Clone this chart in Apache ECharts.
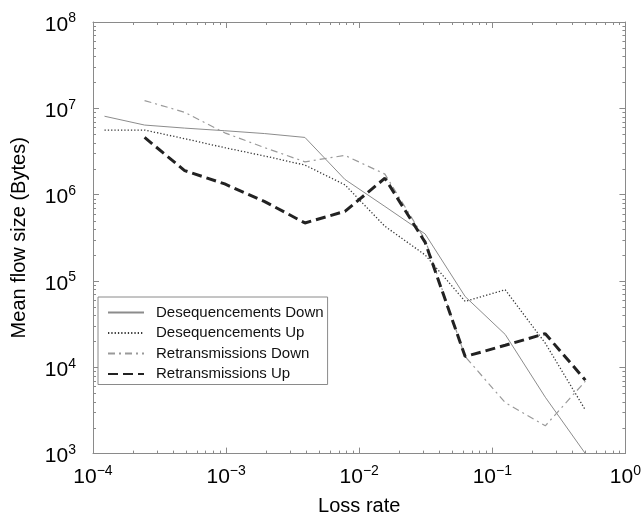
<!DOCTYPE html>
<html>
<head>
<meta charset="utf-8">
<script src="https://cdn.jsdelivr.net/npm/echarts@6/dist/echarts.min.js"></script>
<style>
  html, body { margin: 0; padding: 0; background: #fff; }
  #chart { width: 644px; height: 521px; }
</style>
</head>
<body>
<div id="chart"></div>
<script>
// Loss rates (halving steps) shared by every curve
const lossRates = [1.22e-4, 2.44e-4, 4.88e-4, 9.77e-4, 1.95e-3, 3.91e-3, 7.81e-3,
                   1.56e-2, 3.13e-2, 6.25e-2, 0.125, 0.25, 0.5];

// Mean flow size in bytes, one entry per loss rate (null = no point)
const desequencementsDown = [8.1e6, 6.4e6, 5.9e6, 5.5e6, 5.1e6, 4.6e6, 1.5e6,
                             7.3e5, 3.5e5, 6.6e4, 2.4e4, 4.5e3, 1.0e3];
const desequencementsUp   = [5.6e6, 5.6e6, 4.45e6, 3.5e6, 2.8e6, 2.2e6, 1.3e6,
                             4.3e5, 2.0e5, 5.8e4, 7.9e4, 1.9e4, 3.2e3];
const retransmissionsDown = [null, 1.23e7, 9.0e6, 5.2e6, 3.5e6, 2.4e6, 2.85e6,
                             1.73e6, 3.0e5, 1.33e4, 3.9e3, 2.1e3, 6.9e3];
const retransmissionsUp   = [null, 4.6e6, 1.9e6, 1.33e6, 8.3e5, 4.7e5, 6.4e5,
                             1.55e6, 2.8e5, 1.33e4, 1.8e4, 2.45e4, 7.1e3];

const seriesNames = ['Desequencements Down', 'Desequencements Up',
                     'Retransmissions Down', 'Retransmissions Up'];

// Axis ranges (decades)
const xDecades = [1e-4, 1e-3, 1e-2, 1e-1, 1];
const yDecades = [1e3, 1e4, 1e5, 1e6, 1e7, 1e8];
const minorMantissas = [2, 3, 4, 5, 6, 7, 8, 9];

const FONT = '"Liberation Sans", Arial, Helvetica, sans-serif';
const AXIS_GRAY = '#8a8a8a';

function pairs(values) {
  return lossRates.map((x, i) => [x, values[i]]).filter(p => p[1] != null);
}

function minorValues(decades) {
  const out = [];
  for (let i = 0; i < decades.length - 1; i++) {
    minorMantissas.forEach(m => out.push(decades[i] * m));
  }
  return out;
}

function powerLabel(v) {
  const e = Math.round(Math.log10(v));
  return '{b|10}{s|' + (e < 0 ? '\u2212' + (-e) : String(e)) + '}';
}

// Short inward ticks at the 2..9 sub-decade positions on all four sides
function minorTickSeries(axis) {
  const values = axis === 'x' ? minorValues(xDecades) : minorValues(yDecades);
  const len = 3;
  return {
    type: 'custom',
    silent: true,
    clip: false,
    z: 3,
    data: values.map(v => axis === 'x' ? [v, yDecades[0]] : [xDecades[0], v]),
    renderItem(params, api) {
      const cs = params.coordSys;
      const style = { stroke: AXIS_GRAY, lineWidth: 1 };
      const pt = api.coord([api.value(0), api.value(1)]);
      let segs;
      if (axis === 'x') {
        const px = Math.round(pt[0]) + 0.5;
        segs = [[px, cs.y + cs.height, px, cs.y + cs.height - len],
                [px, cs.y, px, cs.y + len]];
      } else {
        const py = Math.round(pt[1]) + 0.5;
        segs = [[cs.x, py, cs.x + len, py],
                [cs.x + cs.width, py, cs.x + cs.width - len, py]];
      }
      return {
        type: 'group',
        children: segs.map(s => ({
          type: 'line',
          shape: { x1: s[0], y1: s[1], x2: s[2], y2: s[3] },
          style
        }))
      };
    }
  };
}

// "10" with a raised exponent
const tickLabelRich = {
  b: { fontSize: 21, lineHeight: 24, fontFamily: FONT, color: '#000' },
  s: { fontSize: 14, lineHeight: 14, fontFamily: FONT, color: '#000', padding: [0, 0, 13, 0] }
};

const axisCommon = {
  type: 'log',
  logBase: 10,
  axisLine: { show: true, onZero: false, lineStyle: { color: AXIS_GRAY, width: 1 } },
  axisTick: { show: true, inside: true, length: 6, lineStyle: { color: AXIS_GRAY } },
  splitLine: { show: false },
  minorTick: { show: false }
};

const chart = echarts.init(document.getElementById('chart'), null, { renderer: 'canvas' });

chart.setOption({
  animation: false,
  backgroundColor: '#fff',
  grid: { left: 93, right: 14, top: 22, bottom: 59, containLabel: false },
  legend: {
    data: seriesNames,
    orient: 'vertical',
    left: 98,
    top: 297,
    itemWidth: 36,
    itemHeight: 14,
    itemGap: 5.5,
    padding: [8, 4, 3, 9],
    borderColor: '#8a8a8a',
    borderWidth: 1,
    backgroundColor: '#fff',
    selectedMode: false,
    itemStyle: { opacity: 0 },
    textStyle: { fontFamily: FONT, fontSize: 15, color: '#111', padding: [0, 0, 0, 7] }
  },
  xAxis: [
    Object.assign({}, axisCommon, {
      min: 1e-4, max: 1, position: 'bottom',
      axisLabel: { margin: 12, formatter: powerLabel, rich: tickLabelRich },
      name: 'Loss rate',
      nameLocation: 'middle',
      nameGap: 40,
      nameTextStyle: { fontFamily: FONT, fontSize: 20, color: '#000' }
    }),
    Object.assign({}, axisCommon, {
      min: 1e-4, max: 1, position: 'top',
      axisLabel: { show: false }
    })
  ],
  yAxis: [
    Object.assign({}, axisCommon, {
      min: 1e3, max: 1e8, position: 'left',
      axisLabel: { margin: 17, formatter: powerLabel, rich: tickLabelRich, padding: [6, 0, 0, 0] },
      name: 'Mean flow size (Bytes)',
      nameLocation: 'middle',
      nameGap: 64,
      nameTextStyle: { fontFamily: FONT, fontSize: 20, color: '#000' }
    }),
    Object.assign({}, axisCommon, {
      min: 1e3, max: 1e8, position: 'right',
      axisLabel: { show: false }
    })
  ],
  series: [
    {
      name: seriesNames[0], type: 'line', data: pairs(desequencementsDown),
      symbol: 'none', connectNulls: true, z: 4,
      lineStyle: { color: '#8c8c8c', width: 1, type: 'solid' },
      itemStyle: { color: '#8c8c8c' }
    },
    {
      name: seriesNames[1], type: 'line', data: pairs(desequencementsUp),
      symbol: 'none', connectNulls: true, z: 5,
      lineStyle: { color: '#3a3a3a', width: 1.3, type: [1.3, 2] },
      itemStyle: { color: '#3a3a3a' }
    },
    {
      name: seriesNames[2], type: 'line', data: pairs(retransmissionsDown),
      symbol: 'none', connectNulls: true, z: 4,
      lineStyle: { color: '#9a9a9a', width: 1.2, type: [7, 4, 2, 4] },
      itemStyle: { color: '#9a9a9a' }
    },
    {
      name: seriesNames[3], type: 'line', data: pairs(retransmissionsUp),
      symbol: 'none', connectNulls: true, z: 6,
      lineStyle: { color: '#222', width: 3, type: [10, 5] },
      itemStyle: { color: '#222' }
    },
    minorTickSeries('x'),
    minorTickSeries('y')
  ]
});
</script>
</body>
</html>
